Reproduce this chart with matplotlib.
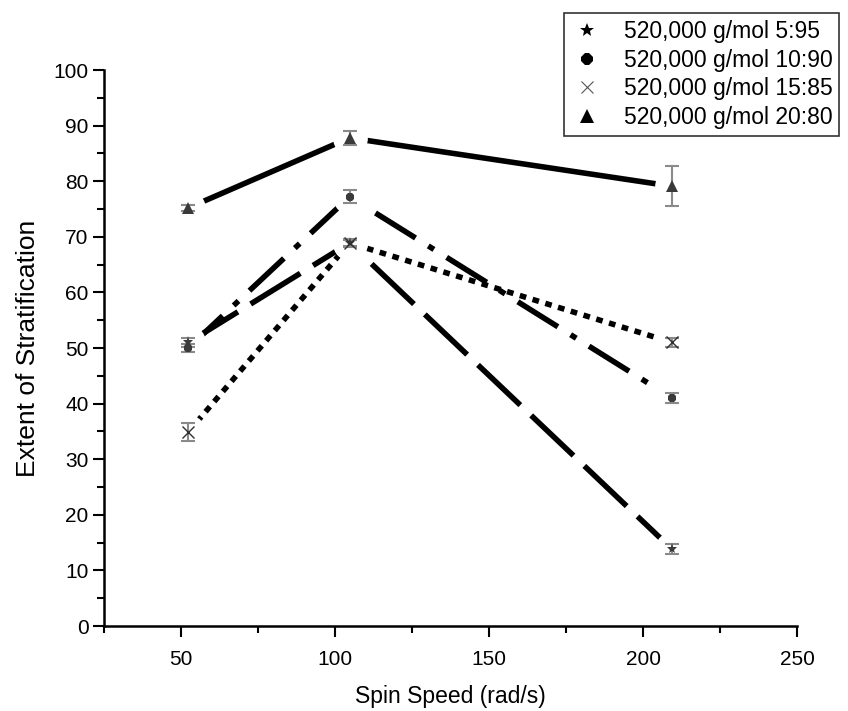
import numpy as np
import matplotlib.pyplot as plt
from matplotlib.lines import Line2D
from matplotlib.ticker import MultipleLocator

plt.rcParams['font.family'] = ['Liberation Sans', 'DejaVu Sans']

# spin speeds (rad/s)
speed = [52.36, 104.72, 209.44]

labels = ["520,000 g/mol 5:95", "520,000 g/mol 10:90",
          "520,000 g/mol 15:85", "520,000 g/mol 20:80"]

# extent of stratification and error for each blend
strat_5_95 = [51.0, 68.9, 13.8]
err_5_95 = [0.8, 0.8, 0.9]
strat_10_90 = [50.0, 77.2, 41.0]
err_10_90 = [0.8, 1.2, 0.9]
strat_15_85 = [34.9, 68.9, 51.0]
err_15_85 = [1.6, 0.6, 0.8]
strat_20_80 = [75.2, 87.8, 79.1]
err_20_80 = [0.6, 1.2, 3.6]

series = [strat_5_95, strat_10_90, strat_15_85, strat_20_80]
errors = [err_5_95, err_10_90, err_15_85, err_20_80]
markers = ['*', '8', 'x', '^']
msizes = [8, 7, 8, 8]
dashes = [(10.5, 2.7), (8.5, 2.7, 1.2, 2.7), (1.2, 1.2), None]

fig = plt.figure(figsize=(8.48, 7.11), dpi=100)
ax = fig.add_axes([0.1226, 0.1195, 0.8174, 0.782])

lw = 4.0
for y, d in zip(series, dashes):
    line, = ax.plot(speed, y, color='black', lw=lw, zorder=2)
    if d is not None:
        line.set_dashes(d)
        line.set_dash_capstyle('butt')

# white patches around the points, so lines stop short of the markers
for y in series:
    ax.plot(speed, y, ls='none', marker='o', ms=25, color='white',
            markeredgewidth=0, zorder=3)

for y, e, m, s in zip(series, errors, markers, msizes):
    ax.errorbar(speed, y, yerr=e, fmt='none', ecolor='#8a8a8a',
                elinewidth=1.5, capsize=5, capthick=1.5, zorder=4)
    if m == 'x':
        ax.plot(speed, y, ls='none', marker=m, ms=s, color='#303030',
                markeredgewidth=1.0, zorder=5)
    else:
        ax.plot(speed, y, ls='none', marker=m, ms=s, color='#3a3a3a',
                markeredgewidth=0, zorder=5)

ax.set_xlim(25, 250)
ax.set_ylim(0, 100)
ax.xaxis.set_major_locator(MultipleLocator(50))
ax.xaxis.set_minor_locator(MultipleLocator(25))
ax.yaxis.set_major_locator(MultipleLocator(10))
ax.yaxis.set_minor_locator(MultipleLocator(5))
ax.set_xticks([50, 100, 150, 200, 250])

for side in ['top', 'right']:
    ax.spines[side].set_visible(False)
for side in ['left', 'bottom']:
    ax.spines[side].set_linewidth(1.8)

ax.tick_params(which='major', direction='out', length=8, width=1.5,
               labelsize=15)
ax.tick_params(axis='x', pad=9)
ax.tick_params(axis='y', pad=3)
ax.tick_params(which='minor', direction='out', length=5, width=1.5)

ax.set_xlabel("Spin Speed (rad/s)", fontsize=16.5, labelpad=12)
ax.set_ylabel("Extent of Stratification", fontsize=19, labelpad=10)

handles = []
for lab, m, s in zip(labels, markers, msizes):
    if m == 'x':
        h = Line2D([], [], ls='none', marker=m, ms=9, color='#555555',
                   markeredgewidth=0.8, label=lab)
    else:
        h = Line2D([], [], ls='none', marker=m, ms=s + 2, color='black',
                   markeredgewidth=0, label=lab)
    handles.append(h)

leg = fig.legend(handles=handles, loc='upper left',
                 bbox_to_anchor=(564 / 848, 1 - 13 / 711),
                 fontsize=16.5, frameon=True, fancybox=False,
                 borderpad=0.3, labelspacing=0.25, handletextpad=0.9,
                 borderaxespad=0, handlelength=1.4)
leg.get_frame().set_edgecolor('black')
leg.get_frame().set_linewidth(1.2)

fig.savefig("out.png", dpi=100)
